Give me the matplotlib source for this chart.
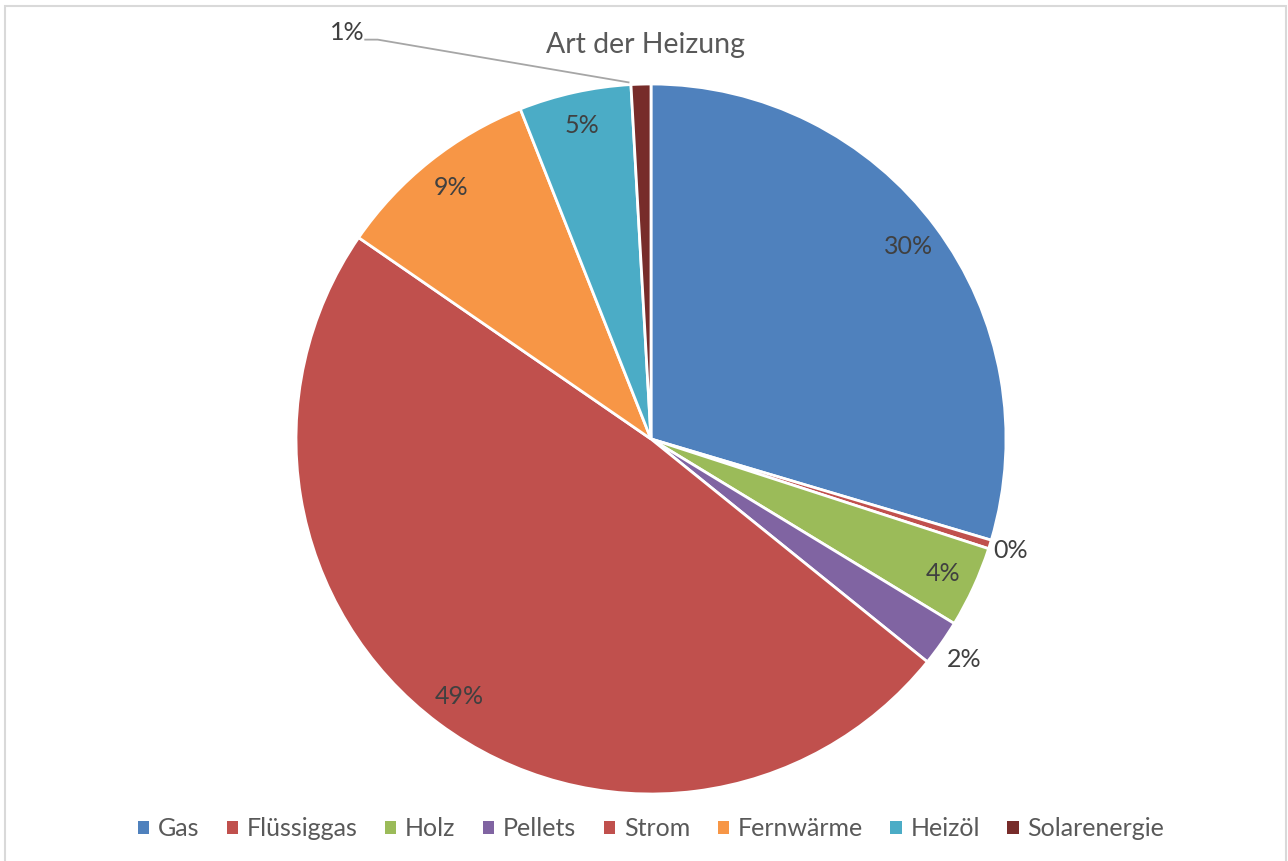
import matplotlib
matplotlib.use('Agg')
import matplotlib.pyplot as plt
import matplotlib.patches as patches
import numpy as np

plt.rcParams['font.family'] = ['Lato', 'DejaVu Sans']

# Daten (Anteile in %)
kategorien = ['Gas', 'Flüssiggas', 'Holz', 'Pellets', 'Strom', 'Fernwärme', 'Heizöl', 'Solarenergie']
anteile = [29.6, 0.4, 3.7, 2.1, 48.8, 9.4, 5.1, 0.9]
farben = ['#4F81BD', '#C0504D', '#9BBB59', '#8064A2', '#C0504D', '#F79646', '#4BACC6', '#772C2A']
titel = 'Art der Heizung'

W, H = 1288, 861
fig = plt.figure(figsize=(W / 100, H / 100), dpi=100)

# Rahmen
rahmen = patches.Rectangle((5 / W, -0.05), (W - 7) / W, 1.05 - 6 / H,
                           transform=fig.transFigure, fill=False,
                           edgecolor='#D9D9D9', linewidth=1.5)
fig.patches.append(rahmen)

cx, cy, r = 651, 439, 355
ax = fig.add_axes([(cx - r) / W, (H - cy - r) / H, 2 * r / W, 2 * r / H])
wedges, _ = ax.pie(anteile, colors=farben, startangle=90, counterclock=False,
                   wedgeprops=dict(edgecolor='white', linewidth=2))
ax.set_xlim(-1, 1)
ax.set_ylim(-1, 1)
ax.set_aspect('equal')
ax.axis('off')

fs = 18
# Datenbeschriftungen
aussen = {1: 1.06, 3: 1.08}
for i, (w, v) in enumerate(zip(wedges, anteile)):
    mitte = np.deg2rad((w.theta1 + w.theta2) / 2)
    txt = f'{round(v):.0f}%'
    if i == 7:
        # verschobenes Label mit Führungslinie
        ex, ey = np.cos(mitte), np.sin(mitte)
        lx, ly = -0.855, 1.145
        ax.plot([lx + 0.05, lx + 0.085, ex - 0.035], [ly - 0.02, ly - 0.02, ey + 0.005],
                color='#A6A6A6', linewidth=1.3, clip_on=False)
        ax.text(lx, ly, txt, ha='center', va='center', fontsize=fs, color='#404040')
        continue
    if i in aussen:
        f = aussen[i]
        ax.text(f * np.cos(mitte), f * np.sin(mitte), txt, ha='center', va='center',
                fontsize=fs, color='#404040')
    else:
        ax.text(0.905 * np.cos(mitte), 0.905 * np.sin(mitte), txt, ha='center', va='center',
                fontsize=fs, color='#404040')

fig.text(646 / W, 1 - 45 / H, titel, ha='center', va='center', fontsize=20.5, color='#595959')

handles = [patches.Patch(facecolor=c, edgecolor='none') for c in farben]
leg = fig.legend(handles, kategorien, loc='center', bbox_to_anchor=(651 / W, 1 - 829 / H),
                 ncol=8, frameon=False, fontsize=fs, handlelength=0.45, handleheight=0.45,
                 handletextpad=0.35, columnspacing=1.1)
for t in leg.get_texts():
    t.set_color('#595959')

fig.savefig('out.png', dpi=100)
